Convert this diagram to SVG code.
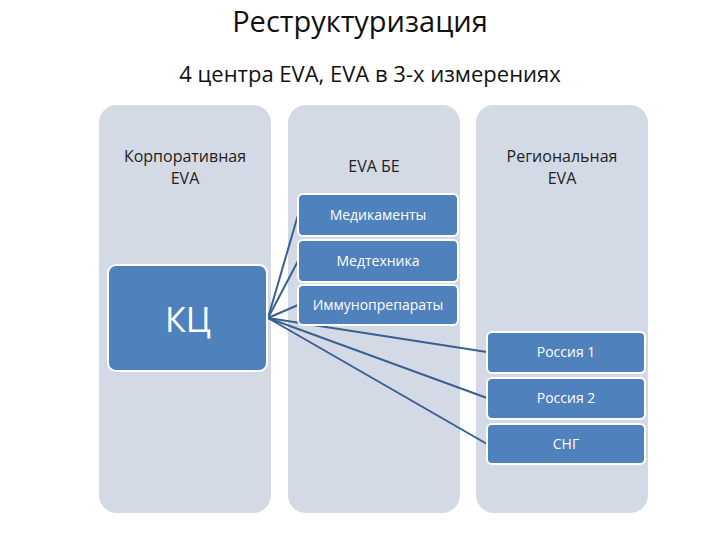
<svg xmlns="http://www.w3.org/2000/svg" width="720" height="540" viewBox="0 0 720 540">
<style>
text{font-family:"Open Sans","Liberation Sans",sans-serif;text-anchor:middle}
.col{fill:#d3dae5}
.box{fill:#4f81bd;stroke:#fff;stroke-width:2}
.bt{fill:#fff;font-size:14px}
.ct{fill:#222;font-size:16px}
.ln{stroke:#3a5f91;stroke-width:2;fill:none}
</style>
<rect width="720" height="540" fill="#fff"/>
<text x="360" y="32" font-size="29" fill="#111">Реструктуризация</text>
<text x="370" y="82" font-size="22" fill="#111">4 центра EVA, EVA в 3-х измерениях</text>
<g id="col1"><rect class="col" x="99" y="105" width="172" height="408" rx="18"/><text class="ct" x="185" y="162">Корпоративная</text><text class="ct" x="185" y="184">EVA</text></g>
<g id="col2"><rect class="col" x="288" y="105" width="172" height="408" rx="18"/><text class="ct" x="374" y="172">EVA БЕ</text></g>
<g id="col3"><rect class="col" x="476" y="105" width="172" height="408" rx="18"/><text class="ct" x="562" y="162">Региональная</text><text class="ct" x="562" y="184">EVA</text></g>
<g id="connectors">
<path class="ln" d="M268 318 L298 215"/>
<path class="ln" d="M268 318 L298 261"/>
<path class="ln" d="M268 318 L298 305"/>
<path class="ln" d="M268 318 L487 352"/>
<path class="ln" d="M268 318 L487 398"/>
<path class="ln" d="M268 318 L487 444"/>
</g>
<g id="kc"><rect class="box" x="108" y="265" width="159" height="106" rx="8"/><text x="188" y="332" font-size="34" fill="#fff">КЦ</text></g>
<g id="med"><rect class="box" x="298" y="194" width="160" height="42" rx="5"/><text class="bt" x="378" y="220">Медикаменты</text></g>
<g id="medtech"><rect class="box" x="298" y="240" width="160" height="42" rx="5"/><text class="bt" x="378" y="266">Медтехника</text></g>
<g id="immuno"><rect class="box" x="298" y="285" width="160" height="40" rx="5"/><text class="bt" x="378" y="310">Иммунопрепараты</text></g>
<g id="ru1"><rect class="box" x="487" y="332" width="158" height="41" rx="5"/><text class="bt" x="566" y="357">Россия 1</text></g>
<g id="ru2"><rect class="box" x="487" y="378" width="158" height="41" rx="5"/><text class="bt" x="566" y="403">Россия 2</text></g>
<g id="cis"><rect class="box" x="487" y="424" width="158" height="40" rx="5"/><text class="bt" x="566" y="449">СНГ</text></g>
</svg>
